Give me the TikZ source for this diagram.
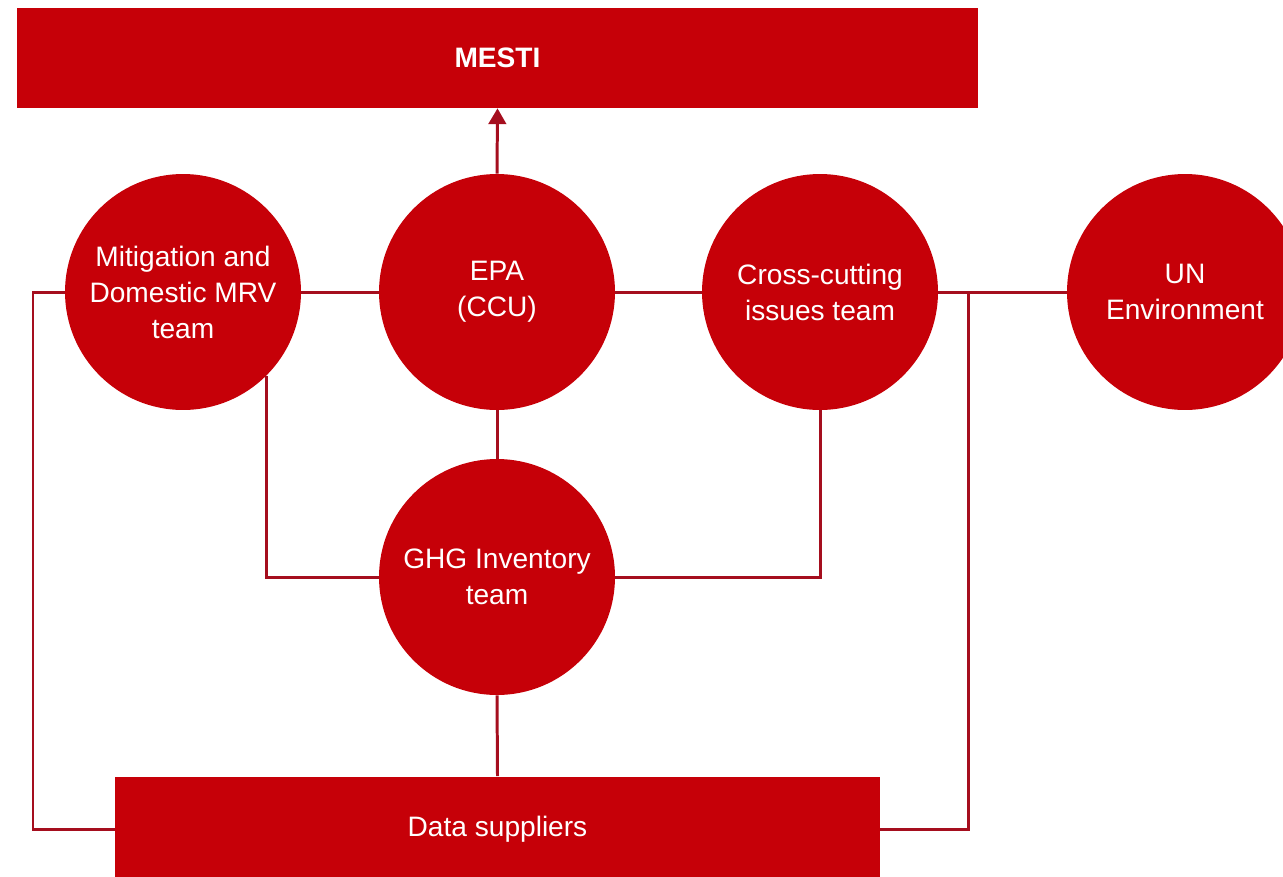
\documentclass[tikz,border=0pt]{standalone}
\usepackage{fontspec}
\setmainfont{Liberation Sans}
\definecolor{mred}{RGB}{198, 0, 8}
\definecolor{lred}{RGB}{165, 14, 30}
\usetikzlibrary{arrows.meta}
\usetikzlibrary{positioning}
\usetikzlibrary{calc}
\tikzset{
  team/.style={circle, fill=mred, text=white, inner sep=0,
    minimum size=4.72cm, align=center,
    font=\fontsize{16}{20.5}\selectfont},
  bar/.style={rectangle, fill=mred, text=white, inner sep=0,
    font=\fontsize{16}{20.5}\selectfont},
  link/.style={draw=lred, line width=1.7pt},
  arrow/.style={link, -{Triangle[length=9pt, width=10pt]}}
}
\begin{document}
\begin{tikzpicture}[x=0.02cm, y=-0.02cm]
  \useasboundingbox (0,0) rectangle (1283,876);

  % top and bottom bars
  \node [bar, minimum width=19.22cm, minimum height=2cm] (mesti) at (497.5,58) {\bfseries MESTI};
  \node [bar, minimum width=15.3cm, minimum height=2.1cm] (data) at (497.5,829) {Data suppliers};

  % teams
  \node [team] (epa) at (497,292) {EPA\\(CCU)};
  \node [team] (mitig) at (183,292) {Mitigation and\\Domestic MRV\\team};
  \node [team] (cross) at (820,292) {Cross-cutting\\issues team};
  \node [team] (un) at (1185,292) {UN\\Environment};
  \node [team] (ghg) at (497,577) {GHG Inventory\\team};

  \coordinate (lj) at (33,292);
  \coordinate (rj) at (968,292);

  % links
  \draw [arrow] (epa.north) -- (mesti.south);
  \draw [link] (mitig.east) -- (epa.west);
  \draw [link] (epa.east) -- (cross.west);
  \draw [link] (cross.east) -- (un.west);
  \draw [link] (epa.south) -- (ghg.north);
  \draw [link] (ghg.south) -- (data.north);
  \draw [link] (mitig.-45) |- (ghg.west);
  \draw [link] (cross.south) |- (ghg.east);
  \draw [link] (mitig.west) -- (lj) |- (data.west);
  \draw [link] (rj) |- (data.east);
\end{tikzpicture}
\end{document}
